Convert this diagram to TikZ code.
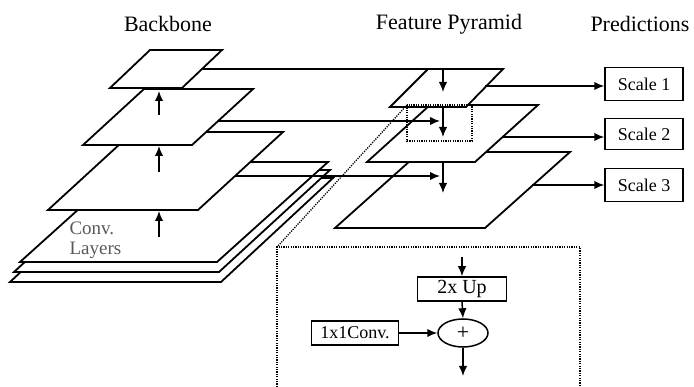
\documentclass[tikz,border=0pt]{standalone}
\usepackage{fontspec}
\setmainfont{Liberation Serif}
\usetikzlibrary{arrows.meta, positioning, shapes.geometric}

\tikzset{
  plane/.style={draw, fill=white, line width=1.8pt, line join=miter},
  link/.style={->, line width=1.5pt},
  title/.style={font=\fontsize{22}{24}\selectfont},
  scalebox/.style={draw, line width=1.5pt, minimum width=78pt, minimum height=33pt,
    inner sep=0pt, font=\fontsize{18}{20}\selectfont},
  opbox/.style={draw, line width=1.5pt, minimum height=24pt, inner sep=0pt,
    font=\fontsize{18}{20}\selectfont},
  zoomline/.style={dash pattern=on 1.2pt off 1.2pt, line width=1.3pt},
}

\begin{document}
\begin{tikzpicture}[x=1pt, y=-1pt, >={Latex[length=10pt, width=8.5pt]}]
\useasboundingbox (0,0) rectangle (694,387);

% Titres
\node[title] (tbb) at (168,24) {Backbone};
\node[title] (tfp) at (449,24) {Feature Pyramid};
\node[title] (tpr) at (640,24) {Predictions};

% Conv. layers (pile de feuilles)
\draw[plane] (10,282) -- (221,282) -- (333,178) -- (122,178) -- cycle;
\draw[plane] (14,272) -- (219,272) -- (330,170) -- (125,170) -- cycle;
\draw[plane] (20,262) -- (217,262) -- (328,162) -- (131,162) -- cycle;

% Backbone
\draw[plane] (48,210) -- (198,210) -- (283,132) -- (133,132) -- cycle;
\draw[plane] (83,145) -- (192,145) -- (253,89) -- (144,89) -- cycle;
\draw[plane] (110,88) -- (182,88) -- (222,50) -- (150,50) -- cycle;
\node[anchor=west, align=left, text=black!65, font=\fontsize{19}{20}\selectfont]
  (conv) at (66,240) {Conv.\\Layers};

\foreach \ys/\ye in {115/91, 172/146, 237/211}
  \draw[link] (159,\ys) -- (159,\ye);

% Feature pyramid
\draw[plane] (335,228) -- (485,228) -- (570,152) -- (420,152) -- cycle;
\draw[plane] (367,162) -- (475,162) -- (538,105) -- (430,105) -- cycle;
\draw[plane] (390,107) -- (466,107) -- (503,69) -- (428,69) -- cycle;

% points d'attache
\coordinate (bb1) at (203,69);
\coordinate (bb2) at (218,121);
\coordinate (bb3) at (235,176);
\coordinate (fp1) at (443,92);
\coordinate (fp2) at (440,121);
\coordinate (fp3) at (440,176);
\coordinate (out1) at (485,86);
\coordinate (out2) at (502,137);
\coordinate (out3) at (532,185);

% connexions laterales
\draw[link] (bb1) -| (fp1);
\draw[link] (bb2) -- (fp2);
\draw[link] (bb3) -- (fp3);
\draw[link] (443,107) -- (443,137);
\draw[link] (443,162) -- (443,193);

% Predictions
\node[scalebox] (s1) at (644,84) {Scale 1};
\node[scalebox, minimum height=31pt] (s2) at (644,134) {Scale 2};
\node[scalebox] (s3) at (644,185) {Scale 3};
\draw[link] (out1) -- (out1 -| s1.west);
\draw[link] (out2) -- (out2 -| s2.west);
\draw[link] (out3) -- (out3 -| s3.west);

% Zoom du bloc de fusion
\draw[zoomline] (407,105) rectangle (472,141);
\draw[zoomline] (407,105) -- (277,247);
\draw[zoomline] (277,387) -- (277,247) -- (580,247) -- (580,387);

\node[opbox, minimum width=89pt, font=\fontsize{20}{22}\selectfont] (up) at (462,289) {2x Up};
\node[ellipse, draw, line width=1.5pt, minimum width=50pt, minimum height=28pt,
  inner sep=0pt, font=\fontsize{22}{22}\selectfont] (plus) at (463,333) {+};
\node[opbox, minimum width=87pt, left=38pt of plus] (lat) {1x1Conv.};
\coordinate (upin) at (462,257);
\coordinate (plusout) at (463,376);

\draw[link] (upin) -- (up.north);
\draw[link] (up.south) -- (plus.north);
\draw[link] (lat.east) -- (plus.west);
\draw[link] (plus.south) -- (plusout);

\end{tikzpicture}
\end{document}
